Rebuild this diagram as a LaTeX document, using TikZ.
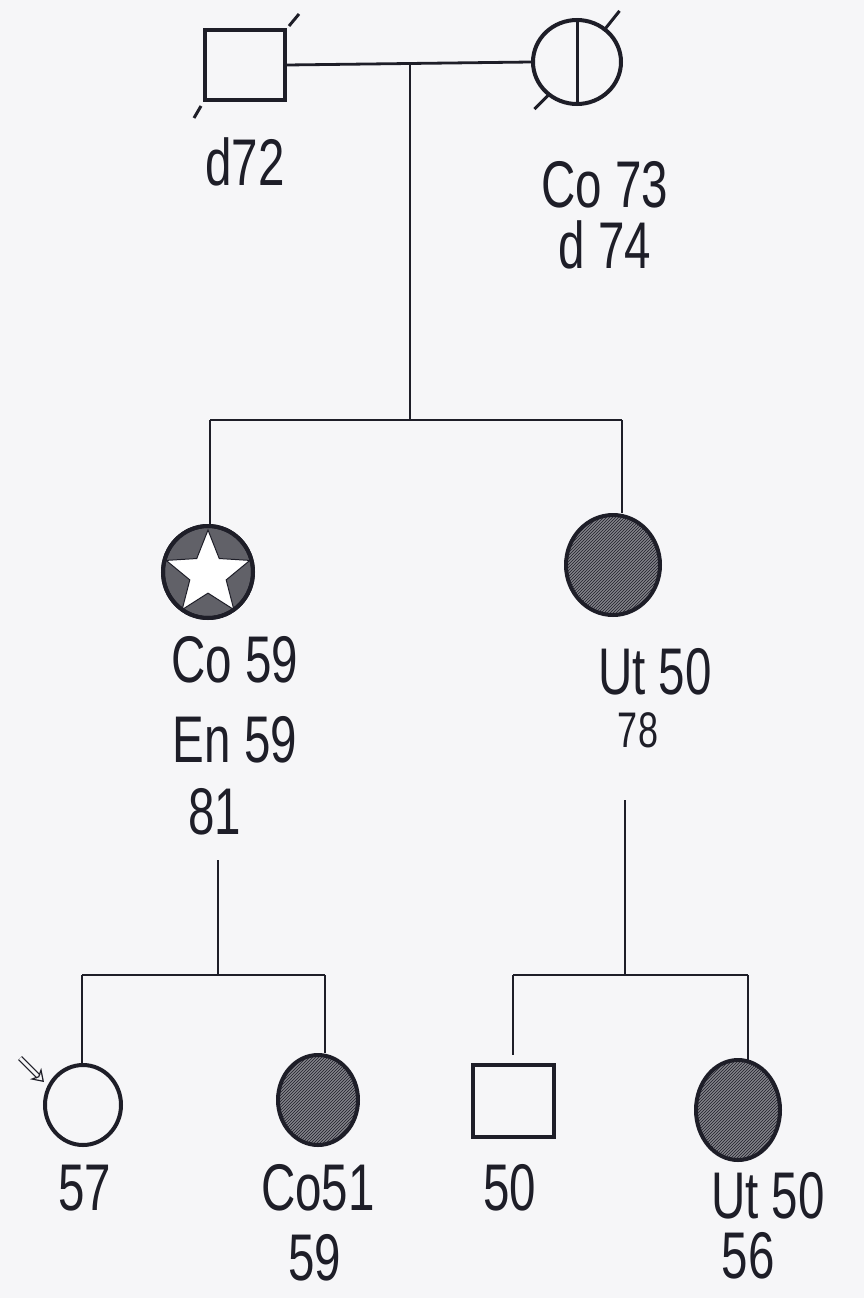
\documentclass[tikz,border=0pt]{standalone}
\usepackage{fontspec}
\setmainfont{Liberation Sans}[FakeStretch=0.72]
\usetikzlibrary{shapes.geometric,patterns,arrows.meta}
\definecolor{paper}{RGB}{246,246,248}
\definecolor{ink}{RGB}{30,30,40}
\tikzset{
  sym/.style={draw=ink, line width=4pt, inner sep=0pt},
  fem/.style={sym, ellipse},
  male/.style={sym, rectangle},
  hatched/.style={fem, preaction={fill=ink!55}, pattern=north east lines, pattern color=ink},
  conn/.style={draw=ink, line width=2.8pt},
  tick/.style={draw=ink, line width=3pt},
  lab/.style={text=ink, font=\fontsize{66}{70}\selectfont, inner sep=0pt},
  labs/.style={text=ink, font=\fontsize{50}{54}\selectfont, inner sep=0pt},
}
\begin{document}
\begin{tikzpicture}[x=1pt,y=-1pt]
\fill[paper] (0,0) rectangle (864,1298);
\useasboundingbox (0,0) rectangle (864,1298);

% generation I
\node[male, minimum width=80pt, minimum height=70pt] (gf) at (245,65) {};
\node[fem, minimum width=88pt, minimum height=84pt] (gm) at (577,62) {};
\draw[tick] (gm.north) -- (gm.south);
\draw[tick] (gf.north east) ++(2,-2) -- ++(10,-12);
\draw[tick] (gf.south west) ++(-2,4) -- ++(-7,12);
\draw[tick] (gm.north east) ++(-6,0) -- ++(16,-20);
\draw[tick] (gm.south west) ++(4,2) -- ++(-14,14);
\node[lab] (lgf) at (245,162) {d72};
\node[lab] (lgm1) at (605,185) {Co 73};
\node[lab] (lgm2) at (605,245) {d 74};

\coordinate (mI) at (410,65);
\coordinate (sI) at (410,420);
\draw[conn] (gf.east) -- (gm.west);
\draw[conn] (mI) -- (sI);

% generation II
\node[fem, minimum width=90pt, minimum height=92pt, fill=ink!70] (a) at (208,572) {};
\node[star, star points=5, star point ratio=2.3, minimum size=88pt, fill=white, draw=ink, line width=1pt, inner sep=0pt] (astar) at (208,574) {};
\node[fem, minimum width=90pt, minimum height=92pt] (aring) at (208,572) {};
\node[hatched, minimum width=94pt, minimum height=100pt] (b) at (613,565) {};
\coordinate (sIl) at (210,420);
\coordinate (sIr) at (622,420);
\draw[conn] (sIl) -- (sIr);
\draw[conn] (sIl) -- (a.north -| sIl);
\draw[conn] (sIr) -- (b.north -| sIr);

\node[lab] (la1) at (235,660) {Co 59};
\node[lab] (la2) at (235,740) {En 59};
\node[lab] (la3) at (215,812) {81};
\node[lab] (lb1) at (655,672) {Ut 50};
\node[labs] (lb2) at (638,730) {78};

% generation III
\coordinate (dl1) at (218,860);
\coordinate (dl2) at (218,975);
\coordinate (dr1) at (625,800);
\coordinate (dr2) at (625,975);
\draw[conn] (dl1) -- (dl2);
\draw[conn] (dr1) -- (dr2);

\node[fem, minimum width=76pt, minimum height=80pt] (c1) at (83,1105) {};
\node[hatched, minimum width=80pt, minimum height=90pt] (c2) at (318,1100) {};
\node[male, minimum width=81pt, minimum height=72pt] (c3) at (513,1101) {};
\node[hatched, minimum width=84pt, minimum height=100pt] (c4) at (738,1110) {};

\coordinate (sLl) at (82,975);
\coordinate (sLr) at (325,975);
\coordinate (sRl) at (513,975);
\coordinate (sRr) at (748,975);
\draw[conn] (sLl) -- (sLr);
\draw[conn] (sRl) -- (sRr);
\draw[conn] (sLl) -- (c1.north -| sLl);
\draw[conn] (sLr) -- (c2.north -| sLr);
\draw[conn] (sRl) -- ++(0,80);
\draw[conn] (sRr) -- ++(0,88);

% proband arrow
\coordinate (pa) at (20,1058);
\coordinate (pb) at (44,1082);
\draw[draw=ink, line width=1.2pt, double=paper, double distance=3pt, -{Stealth[open,length=12pt,width=16pt]}] (pa) -- (pb);

\node[lab] (lc1) at (85,1188) {57};
\node[lab] (lc2a) at (318,1188) {Co51};
\node[lab] (lc2b) at (315,1258) {59};
\node[lab] (lc3) at (510,1188) {50};
\node[lab] (lc4a) at (768,1196) {Ut 50};
\node[lab] (lc4b) at (748,1256) {56};
\end{tikzpicture}
\end{document}
